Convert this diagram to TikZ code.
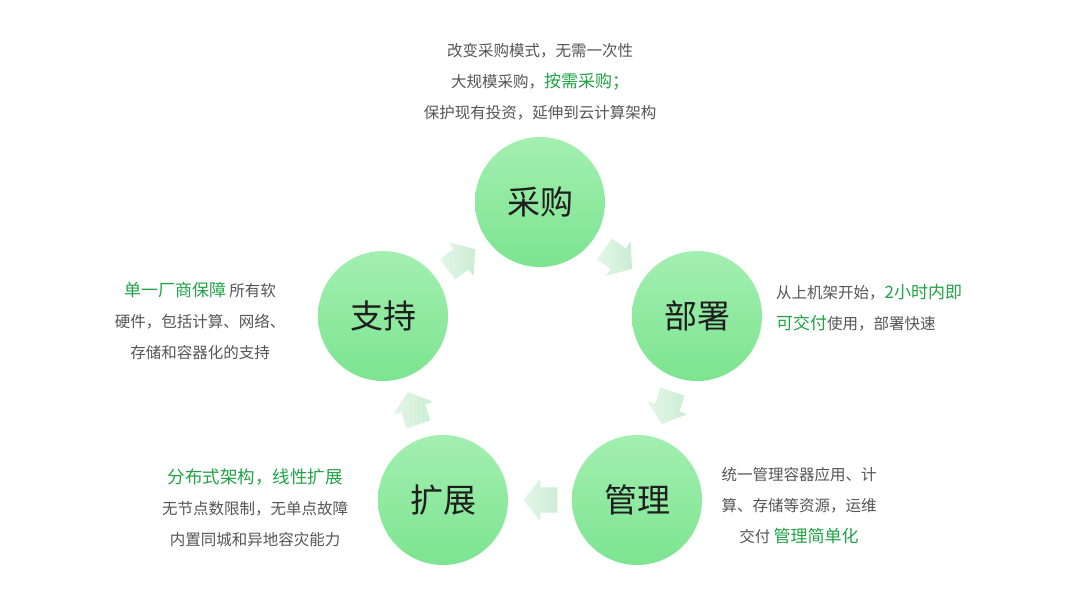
\documentclass[tikz,border=0pt]{standalone}
\usepackage{fontspec}
\newfontfamily\cjk{Noto Sans CJK SC}
\usetikzlibrary{shapes.arrows}
\definecolor{grn}{HTML}{1FA345}
\definecolor{txt}{HTML}{555555}
\definecolor{lbl}{HTML}{1E1E1E}
\definecolor{cTop}{HTML}{A3EFB0}
\definecolor{cBot}{HTML}{7CE490}
\definecolor{aHead}{HTML}{CBEDD3}
\definecolor{aTail}{HTML}{E4F6E8}
\newcommand{\hl}[1]{{\color{grn}\fontsize{17}{31}\selectfont #1}}
\begin{document}
\begin{tikzpicture}[x=1pt,y=-1pt,
  circ/.style={circle, minimum size=130pt, inner sep=0pt, top color=cTop, bottom color=cBot, draw=none,
    font=\cjk\fontsize{33}{33}\selectfont, text=lbl},
  flow/.style={single arrow, minimum height=34pt, single arrow head extend=8.5pt,
    single arrow tip angle=102, inner xsep=0pt, inner ysep=12.5pt, left color=aTail, right color=aHead, draw=none,
    sloped, allow upside down, pos=0.415},
  desc/.style={font=\cjk\fontsize{15.5}{31}\selectfont, text=txt, inner sep=0pt}]
\useasboundingbox[fill=white] (0,0) rectangle (1080,608);

% circles (regular pentagon, centre (540,367), R=165)
\node[circ] (cg) at (540,202) {采购};
\node[circ] (bs) at (697,316) {部署};
\node[circ] (gl) at (637,500) {管理};
\node[circ] (kz) at (443,500) {扩展};
\node[circ] (zc) at (383,316) {支持};

% flow arrows
\path (cg) -- node[flow] (a1) {} (bs);
\path (bs) -- node[flow] (a2) {} (gl);
\path (gl) -- node[flow] (a3) {} (kz);
\path (kz) -- node[flow] (a4) {} (zc);
\path (zc) -- node[flow] (a5) {} (cg);

% descriptions
\node[desc, align=center] (t1) at (540,82) {改变采购模式，无需一次性\\
  大规模采购，\hl{按需采购；}\\
  保护现有投资，延伸到云计算架构};

\node[desc, align=left, anchor=west] (t2) at (776,308) {从上机架开始，\hl{2小时内即}\\
  \hl{可交付}使用，部署快速};

\node[desc, align=center] (t3) at (799,506) {统一管理容器应用、计\\
  算、存储等资源，运维\\
  交付 \hl{管理简单化}};

\node[desc, align=center] (t4) at (255,508) {{\color{grn}\fontsize{17.5}{31}\selectfont 分布式架构，线性扩展}\\
  无节点数限制，无单点故障\\
  内置同城和异地容灾能力};

\node[desc, align=center] (t5) at (200,321) {\hl{单一厂商保障} 所有软\\
  硬件，包括计算、网络、\\
  存储和容器化的支持};
\end{tikzpicture}
\end{document}
